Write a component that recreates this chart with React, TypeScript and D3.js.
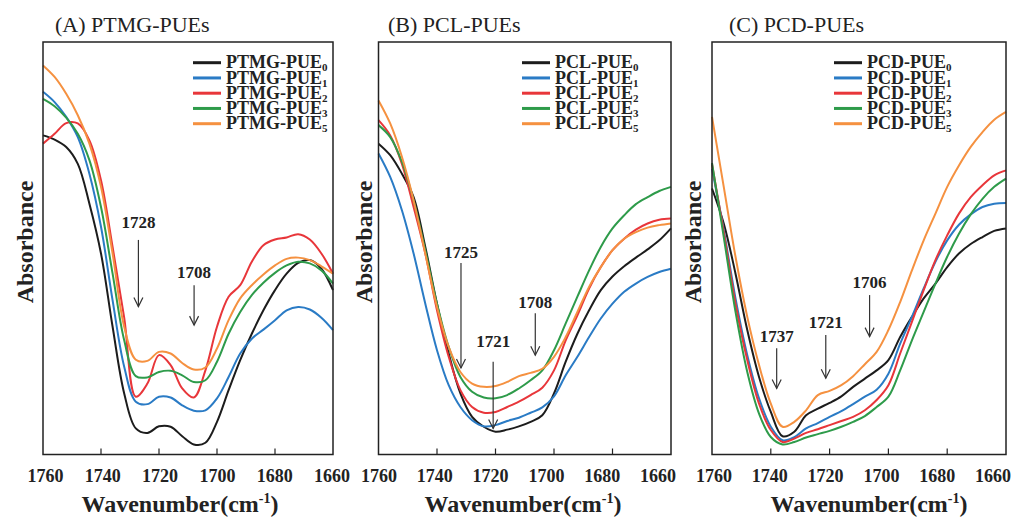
import React from 'react';
import * as d3 from 'd3';

// Wavenumber grid (cm-1) shared by all spectra, read every 4 cm-1
const WAVENUMBERS = [1760, 1756, 1752, 1748, 1744, 1740, 1736, 1732, 1728, 1724, 1720, 1716, 1712,
  1708, 1704, 1700, 1696, 1692, 1688, 1684, 1680, 1676, 1672, 1668, 1664, 1660];
const TICK_VALUES = [1760, 1740, 1720, 1700, 1680, 1660];
const SAMPLE_SUBSCRIPTS = ['0', '1', '2', '3', '5'];
const SERIES_COLORS = ['#1c1c1c', '#2a7bc5', '#e8363a', '#2e9b4a', '#f59140'];

// (A) PTMG-PUEs, absorbance (a.u.)
const PTMG_PUE0 = [0.773, 0.763, 0.745, 0.704, 0.607, 0.486, 0.308, 0.146, 0.061, 0.050, 0.066, 0.065, 0.042,
  0.022, 0.026, 0.077, 0.154, 0.227, 0.291, 0.348, 0.397, 0.437, 0.463, 0.470, 0.449, 0.397];
const PTMG_PUE1 = [0.879, 0.854, 0.818, 0.769, 0.680, 0.551, 0.372, 0.211, 0.126, 0.120, 0.138, 0.136, 0.117,
  0.104, 0.105, 0.134, 0.186, 0.243, 0.279, 0.301, 0.324, 0.348, 0.356, 0.350, 0.330, 0.300];
const PTMG_PUE2 = [0.753, 0.777, 0.803, 0.802, 0.761, 0.664, 0.502, 0.330, 0.138, 0.170, 0.239, 0.215, 0.158,
  0.136, 0.202, 0.308, 0.381, 0.409, 0.466, 0.506, 0.520, 0.525, 0.533, 0.520, 0.486, 0.437];
const PTMG_PUE3 = [0.862, 0.844, 0.816, 0.777, 0.713, 0.599, 0.437, 0.275, 0.188, 0.185, 0.198, 0.201, 0.190,
  0.174, 0.178, 0.223, 0.291, 0.344, 0.385, 0.415, 0.439, 0.457, 0.466, 0.462, 0.445, 0.413];
const PTMG_PUE5 = [0.943, 0.915, 0.874, 0.822, 0.753, 0.648, 0.486, 0.308, 0.228, 0.225, 0.247, 0.243, 0.220,
  0.204, 0.209, 0.255, 0.324, 0.377, 0.409, 0.435, 0.457, 0.473, 0.476, 0.470, 0.455, 0.437];

// (B) PCL-PUEs
const PCL_PUE0 = [0.753, 0.725, 0.680, 0.623, 0.502, 0.364, 0.243, 0.146, 0.089, 0.065, 0.053, 0.058, 0.066,
  0.077, 0.093, 0.146, 0.223, 0.291, 0.348, 0.397, 0.430, 0.455, 0.476, 0.496, 0.518, 0.547];
const PCL_PUE1 = [0.729, 0.672, 0.591, 0.486, 0.364, 0.251, 0.166, 0.113, 0.081, 0.066, 0.069, 0.079, 0.087,
  0.099, 0.112, 0.139, 0.190, 0.235, 0.283, 0.328, 0.364, 0.393, 0.413, 0.429, 0.441, 0.449];
const PCL_PUE2 = [0.810, 0.773, 0.704, 0.599, 0.486, 0.348, 0.235, 0.154, 0.113, 0.099, 0.101, 0.113, 0.126,
  0.142, 0.160, 0.202, 0.275, 0.336, 0.401, 0.453, 0.494, 0.522, 0.544, 0.559, 0.568, 0.571];
const PCL_PUE3 = [0.798, 0.769, 0.709, 0.615, 0.494, 0.364, 0.259, 0.186, 0.150, 0.136, 0.134, 0.142, 0.158,
  0.178, 0.202, 0.251, 0.316, 0.381, 0.445, 0.502, 0.547, 0.579, 0.606, 0.623, 0.638, 0.648];
const PCL_PUE5 = [0.858, 0.802, 0.721, 0.615, 0.486, 0.356, 0.259, 0.198, 0.170, 0.162, 0.164, 0.174, 0.188,
  0.196, 0.206, 0.235, 0.283, 0.344, 0.405, 0.453, 0.494, 0.522, 0.538, 0.549, 0.555, 0.559];

// (C) PCD-PUEs
const PCD_PUE0 = [0.644, 0.559, 0.437, 0.300, 0.186, 0.101, 0.042, 0.053, 0.093, 0.109, 0.123, 0.139, 0.162,
  0.182, 0.202, 0.227, 0.283, 0.332, 0.377, 0.413, 0.453, 0.486, 0.509, 0.526, 0.541, 0.547];
const PCD_PUE1 = [0.692, 0.543, 0.377, 0.239, 0.134, 0.065, 0.032, 0.040, 0.061, 0.074, 0.089, 0.103, 0.120,
  0.138, 0.155, 0.194, 0.267, 0.332, 0.401, 0.466, 0.518, 0.556, 0.581, 0.599, 0.607, 0.609];
const PCD_PUE2 = [0.703, 0.538, 0.364, 0.227, 0.121, 0.057, 0.028, 0.036, 0.050, 0.059, 0.069, 0.079, 0.089,
  0.105, 0.130, 0.166, 0.243, 0.320, 0.397, 0.470, 0.530, 0.583, 0.623, 0.652, 0.676, 0.688];
const PCD_PUE3 = [0.706, 0.526, 0.344, 0.198, 0.097, 0.040, 0.022, 0.028, 0.039, 0.047, 0.055, 0.065, 0.077,
  0.091, 0.113, 0.138, 0.202, 0.275, 0.344, 0.413, 0.478, 0.534, 0.581, 0.619, 0.648, 0.668];
const PCD_PUE5 = [0.818, 0.648, 0.478, 0.332, 0.215, 0.121, 0.065, 0.077, 0.105, 0.142, 0.152, 0.166, 0.188,
  0.217, 0.247, 0.300, 0.368, 0.445, 0.518, 0.583, 0.648, 0.700, 0.745, 0.781, 0.811, 0.830];

// peak markers: label, wavenumber the arrow points at, label level, arrow start, arrow tip (a.u.)
const PTMG_MARKS = [['1728', 1727.1, 0.548, 0.519, 0.357], ['1708', 1707.9, 0.426, 0.409, 0.312]];
const PCL_MARKS = [['1725', 1731.8, 0.475, 0.463, 0.208], ['1721', 1720.8, 0.260, 0.223, 0.061],
  ['1708', 1706.4, 0.354, 0.341, 0.239]];
const PCD_MARKS = [['1737', 1738.0, 0.272, 0.256, 0.158], ['1721', 1721.3, 0.305, 0.288, 0.183],
  ['1706', 1706.4, 0.402, 0.385, 0.284]];

const FONT = "'Liberation Serif', 'Times New Roman', serif";
const PLOT_TOP = 42;
const PLOT_BOTTOM = 453.5;

// layout per panel (tick labels of B and C sit a bit tighter than their ticks)
const panels = [
  { title: '(A) PTMG-PUEs', prefix: 'PTMG-PUE', series: [PTMG_PUE0, PTMG_PUE1, PTMG_PUE2, PTMG_PUE3, PTMG_PUE5],
    marks: PTMG_MARKS, left: 43, right: 333, labelLeft: 45.5, labelRight: 332,
    titleX: 55, yLabelX: 33, xLabelX: 180, legendX: 193 },
  { title: '(B) PCL-PUEs', prefix: 'PCL-PUE', series: [PCL_PUE0, PCL_PUE1, PCL_PUE2, PCL_PUE3, PCL_PUE5],
    marks: PCL_MARKS, left: 378.5, right: 671, labelLeft: 379, labelRight: 658,
    titleX: 388, yLabelX: 372, xLabelX: 523, legendX: 522 },
  { title: '(C) PCD-PUEs', prefix: 'PCD-PUE', series: [PCD_PUE0, PCD_PUE1, PCD_PUE2, PCD_PUE3, PCD_PUE5],
    marks: PCD_MARKS, left: 712, right: 1006, labelLeft: 714, labelRight: 993,
    titleX: 729, yLabelX: 701, xLabelX: 869, legendX: 834 },
];

function Panel({ p }: { p: any }) {
  const x = d3.scaleLinear().domain([1760, 1660]).range([p.left, p.right]);
  const xLabel = d3.scaleLinear().domain([1760, 1660]).range([p.labelLeft, p.labelRight]);
  const y = d3.scaleLinear().domain([0, 1]).range([PLOT_BOTTOM, PLOT_TOP]);
  const line = d3.line<number>()
    .x((_, i) => x(WAVENUMBERS[i]))
    .y(d => y(d))
    .curve(d3.curveCatmullRom.alpha(0.5));

  return (
    <g>
      {/* title */}
      <text x={p.titleX} y={32} fontFamily={FONT} fontSize={22} fill="#222">{p.title}</text>

      {/* y label */}
      <text transform={`translate(${p.yLabelX},${242}) rotate(-90)`} textAnchor="middle"
        fontFamily={FONT} fontSize={24} fontWeight="bold" fill="#222">Absorbance</text>

      {/* curves */}
      {p.series.map((s: number[], i: number) => (
        <path key={i} d={line(s) || ''} fill="none" stroke={SERIES_COLORS[i]} strokeWidth={2} />
      ))}

      {/* frame */}
      <rect x={p.left} y={PLOT_TOP} width={p.right - p.left} height={PLOT_BOTTOM - PLOT_TOP + 1}
        fill="none" stroke="#222" strokeWidth={1.5} />

      {/* inner ticks */}
      {TICK_VALUES.slice(1, -1).map(t => (
        <line key={t} x1={x(t)} x2={x(t)} y1={PLOT_BOTTOM + 1} y2={PLOT_BOTTOM - 5} stroke="#222" strokeWidth={1.2} />
      ))}
      {TICK_VALUES.map(t => (
        <text key={t} x={xLabel(t)} y={482} textAnchor="middle" fontFamily={FONT} fontSize={18}
          fontWeight="bold" fill="#222">{t}</text>
      ))}

      {/* x label */}
      <text x={p.xLabelX} y={512} textAnchor="middle" fontFamily={FONT} fontSize={24}
        fontWeight="bold" fill="#222">
        Wavenumber(cm<tspan fontSize={14} dy={-9}>-1</tspan><tspan dy={9}>)</tspan>
      </text>

      {/* legend */}
      {SAMPLE_SUBSCRIPTS.map((sub, i) => {
        const cy = 62.7 + i * 15.25;
        return (
          <g key={sub}>
            <line x1={p.legendX} x2={p.legendX + 28} y1={cy} y2={cy} stroke={SERIES_COLORS[i]} strokeWidth={3} />
            <text x={p.legendX + 33} y={cy + 5.7} fontFamily={FONT} fontSize={18} fontWeight="bold" fill="#222">
              {p.prefix}<tspan fontSize={11} dy={3}>{sub}</tspan>
            </text>
          </g>
        );
      })}

      {/* peak arrows */}
      {p.marks.map((m: any[], i: number) => {
        const ax = x(m[1]);
        const tip = y(m[4]);
        return (
          <g key={i}>
            <text x={ax} y={y(m[2])} textAnchor="middle" fontFamily={FONT} fontSize={17}
              fontWeight="bold" fill="#222">{m[0]}</text>
            <line x1={ax} x2={ax} y1={y(m[3])} y2={tip} stroke="#333" strokeWidth={1.2} />
            <path d={`M${ax - 4.5},${tip - 9}L${ax},${tip}L${ax + 4.5},${tip - 9}`} fill="none"
              stroke="#333" strokeWidth={1.2} />
          </g>
        );
      })}
    </g>
  );
}

export default function App() {
  return (
    <div style={{ position: 'absolute', left: 0, top: 0 }}>
      <svg width={1016} height={521} style={{ display: 'block', background: '#fff' }}>
        {panels.map((p, i) => <Panel key={i} p={p} />)}
      </svg>
    </div>
  );
}
